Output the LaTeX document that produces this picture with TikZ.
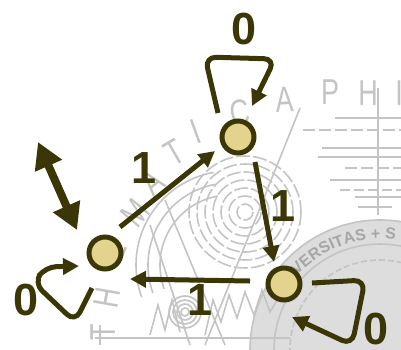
\documentclass[tikz,border=0pt]{standalone}
\usepackage{fontspec}
\setmainfont{Liberation Sans}
\usetikzlibrary{arrows.meta,calc,decorations.text}
\definecolor{ink}{HTML}{3B3606}
\definecolor{nodefill}{HTML}{E3D38C}
\definecolor{bg}{HTML}{C4C4C4}
\definecolor{sealfill}{HTML}{DDDDDD}
\begin{document}
\begin{tikzpicture}[x=1pt,y=-1pt,
  st/.style={circle,draw=ink,fill=nodefill,line width=5pt,minimum size=32pt,inner sep=0pt},
  arr/.style={draw=ink,line width=5pt,-{Triangle[length=16pt,width=16pt]}},
  selfloop/.style={arr,rounded corners=11pt},
  dbl/.style={draw=ink,line width=8pt,{Triangle[length=26pt,width=28pt]}-{Triangle[length=26pt,width=28pt]}},
  lbl/.style={text=ink,font=\fontsize{45}{45}\selectfont\bfseries,inner sep=0pt},
  bgl/.style={draw=bg,line width=1.6pt},
  bgt/.style={text=bg,font=\fontsize{36}{36}\selectfont,inner sep=0pt}
]
\useasboundingbox (0,0) rectangle (401,349);
\begin{scope}
\clip (0,0) rectangle (401,349);
% seal
\fill[sealfill] (380,350) circle[radius=130];
\draw[bgl] (380,350) circle[radius=130];
\draw[bgl] (380,350) circle[radius=106];
\draw[bgl,dash pattern=on 6pt off 3pt] (380,350) circle[radius=90];
\path[decorate,decoration={text along path,text align=left,
  text={|\bfseries\fontsize{16}{16}\selectfont\color{black!35}|VNIVERSITAS + S + CAROLI}}]
  (380,350) ++(-152:111) arc[start angle=-152,end angle=-30,radius=111];
% concentric circles
\foreach \rr in {8,16,24,32,40,48,56}
  \draw[bgl,dash pattern=on 14pt off 3pt] (245,212) circle[radius=\rr];
\foreach \rr in {70,82,94}
  \draw[bgl] (230,265) ++(-100:\rr) arc[start angle=-100,end angle=-200,radius=\rr];
\foreach \rr in {4,8,12,16}
  \draw[bgl] (185,312) circle[radius=\rr];
% horizontal lines
\draw[bgl] (335,118) -- (401,118);
\draw[bgl,dash pattern=on 12pt off 4pt] (303,130) -- (401,130);
\draw[bgl] (322,148) -- (401,148);
\draw[bgl] (318,157) -- (401,157);
\draw[bgl,dash pattern=on 12pt off 4pt] (345,168) -- (401,168);
\draw[bgl] (330,180) -- (401,180);
\draw[bgl,dash pattern=on 10pt off 4pt] (340,190) -- (401,190);
\draw[bgl] (355,197) -- (401,197);
\draw[bgl,line width=2.4pt] (378,88) -- (378,215);
\draw[bgl] (358,207) -- (392,207);
% diagonal lines
\draw[bgl] (300,108) -- (205,345);
\draw[bgl] (150,225) -- (190,345);
\draw[bgl] (165,200) -- (225,345);
% zigzag and ground
\draw[bgl] (205,335) -- (213,300) -- (221,322) -- (229,295) -- (237,318) -- (245,292) -- (254,315) -- (262,290) -- (270,312) -- (280,295);
\draw[bgl] (150,335) -- (158,305) -- (165,330) -- (172,300) -- (180,332);
\draw[bgl] (95,338) -- (290,338);
\draw[bgl] (100,325) -- (100,345);
% letters
\foreach \ch/\x/\y/\r in {T/103/332/90, H/107/298/80, E/113/250/65, M/135/213/50, A/152/182/40, T/174/153/30, I/196/132/20, C/240/113/10, A/285/100/3, P/330/92/0, H/368/93/0, I/399/93/0}
  \node[bgt,rotate=\r] (bgletter-\x) at (\x,\y) {\scalebox{0.75}[1]{\ch}};
\end{scope}
% nodes
\node[st] (a) at (105,253) {};
\node[st] (b) at (238,137) {};
\node[st] (c) at (284,284) {};
% edges
\draw[arr] ($(a)+(15,-26)$) -- ($(b)+(-23,14)$);
\draw[arr] ($(b)+(17,25)$) -- ($(c)+(-10,-22)$);
\draw[arr] ($(c)+(-34,-3)$) -- ($(a)+(25,26)$);
% self loops
\draw[selfloop] ($(b)+(-20,-24)$) -- ($(b)+(-33,-80)$) -- ($(b)+(37,-78)$) -- ($(b)+(14,-31)$);
\draw[selfloop] ($(a)+(-13,35)$) -- ($(a)+(-30,69)$) -- ($(a)+(-71,30)$) -- ($(a)+(-60,14)$) -- ($(a)+(-26,13)$);
\draw[selfloop] ($(c)+(28,-1)$) -- ($(c)+(81,-4)$) -- ($(c)+(68,61)$) -- ($(c)+(8,33)$);
% double arrow
\coordinate (d1) at (38,142);
\coordinate (d2) at (77,230);
\draw[dbl] (d1) -- (d2);
% labels
\node[lbl] (l0t) at (244,29) {0};
\node[lbl] (l1a) at (144,168) {1};
\node[lbl] (l1b) at (283,206) {1};
\node[lbl] (l1c) at (200,300) {1};
\node[lbl] (l0a) at (26,300) {0};
\node[lbl] (l0c) at (376,329) {0};
\end{tikzpicture}
\end{document}
